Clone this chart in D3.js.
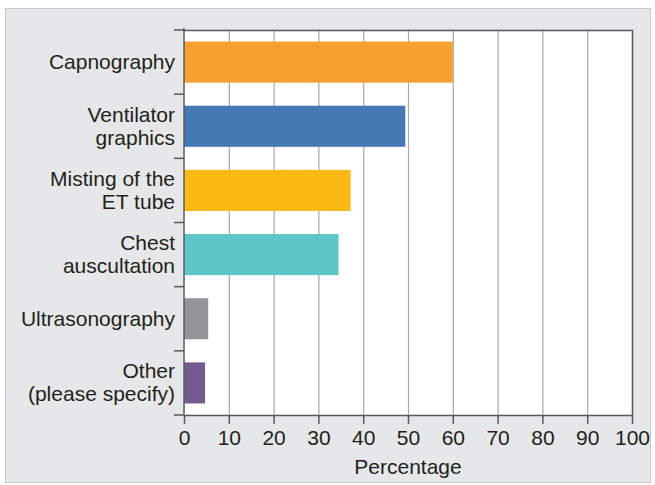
<!DOCTYPE html>
<html>
<head>
<meta charset="utf-8">
<script src="https://cdn.jsdelivr.net/npm/d3@7"></script>
<style>
  body { margin: 0; background: #fff; }
  text { font-family: "Liberation Sans", Arial, sans-serif; fill: #231f20; }
</style>
</head>
<body>
<svg width="655" height="485"></svg>
<script>
// chart data
const categories = [
  ["Capnography"],
  ["Ventilator", "graphics"],
  ["Misting of the", "ET tube"],
  ["Chest", "auscultation"],
  ["Ultrasonography"],
  ["Other", "(please specify)"]
];
const values = [60, 49.4, 37.2, 34.5, 5.4, 4.7];
const colors = ["#f7a030", "#4579b4", "#fdb913", "#5ec6c6", "#939598", "#735a8f"];
const xTicks = [0, 10, 20, 30, 40, 50, 60, 70, 80, 90, 100];

const svg = d3.select("svg");
const margin = { top: 30, left: 184, right: 632, bottom: 415 };
const FS = 21;

// grey panel behind everything
svg.append("rect")
  .attr("x", 5.5).attr("y", 8.5)
  .attr("width", 645).attr("height", 474)
  .attr("fill", "#e6e7e8")
  .attr("stroke", "#c7c8ca");

svg.append("rect")
  .attr("x", margin.left).attr("y", margin.top)
  .attr("width", margin.right - margin.left)
  .attr("height", margin.bottom - margin.top)
  .attr("fill", "#fff");

const x = d3.scaleLinear().domain([0, 100]).range([margin.left, margin.right]);
const y = d3.scaleBand()
  .domain(d3.range(categories.length))
  .range([margin.top, margin.bottom])
  .paddingInner(0.36)
  .paddingOuter(0.18);

// vertical grid
svg.append("g")
  .selectAll("line")
  .data(xTicks.slice(1, -1))
  .join("line")
  .attr("x1", d => x(d) + 0.5).attr("x2", d => x(d) + 0.5)
  .attr("y1", margin.top).attr("y2", margin.bottom)
  .attr("stroke", "#a7a9ac")
  .attr("stroke-width", 1.2);

// bars
svg.append("g")
  .selectAll("rect")
  .data(values)
  .join("rect")
  .attr("x", x(0))
  .attr("y", (d, i) => y(i))
  .attr("width", d => x(d) - x(0))
  .attr("height", y.bandwidth())
  .attr("fill", (d, i) => colors[i]);

// frame top and right
svg.append("path")
  .attr("d", `M${margin.left},${margin.top + 0.5}H${margin.right + 0.5}V${margin.bottom}`)
  .attr("fill", "none")
  .attr("stroke", "#58595b")
  .attr("stroke-width", 1.5);

// x axis
const xAxis = svg.append("g")
  .attr("transform", `translate(0,${margin.bottom})`)
  .call(d3.axisBottom(x).tickValues(xTicks).tickSize(9).tickPadding(6).tickSizeOuter(0));
xAxis.select(".domain").attr("stroke", "#58595b").attr("stroke-width", 1.5);
xAxis.selectAll(".tick line").attr("stroke", "#58595b").attr("stroke-width", 1.5);
xAxis.selectAll(".tick text")
  .attr("font-size", FS)
  .attr("font-family", "Liberation Sans, Arial, sans-serif")
  .attr("fill", "#231f20");

svg.append("text")
  .attr("x", 408).attr("y", 474)
  .attr("text-anchor", "middle")
  .attr("font-size", FS)
  .text("Percentage");

// y axis: line + ticks at band boundaries
const bounds = d3.range(categories.length + 1).map(i => margin.top + i * (margin.bottom - margin.top) / categories.length);
svg.append("line")
  .attr("x1", margin.left).attr("x2", margin.left)
  .attr("y1", margin.top - 2).attr("y2", margin.bottom)
  .attr("stroke", "#58595b").attr("stroke-width", 1.5);
svg.append("g")
  .selectAll("line")
  .data(bounds)
  .join("line")
  .attr("x1", margin.left - 10).attr("x2", margin.left)
  .attr("y1", d => d).attr("y2", d => d)
  .attr("stroke", "#58595b").attr("stroke-width", 1.5);

// category labels
const lab = svg.append("g")
  .selectAll("text")
  .data(categories)
  .join("text")
  .attr("text-anchor", "end")
  .attr("font-size", FS)
  .attr("y", (d, i) => y(i) + y.bandwidth() / 2);
lab.selectAll("tspan")
  .data(d => d.map((t, j) => ({ t, j, n: d.length })))
  .join("tspan")
  .attr("x", margin.left - 9)
  .attr("dy", d => d.j === 0 ? (d.n === 1 ? "0.35em" : "-0.22em") : "1.1em")
  .text(d => d.t);
</script>
</body>
</html>
